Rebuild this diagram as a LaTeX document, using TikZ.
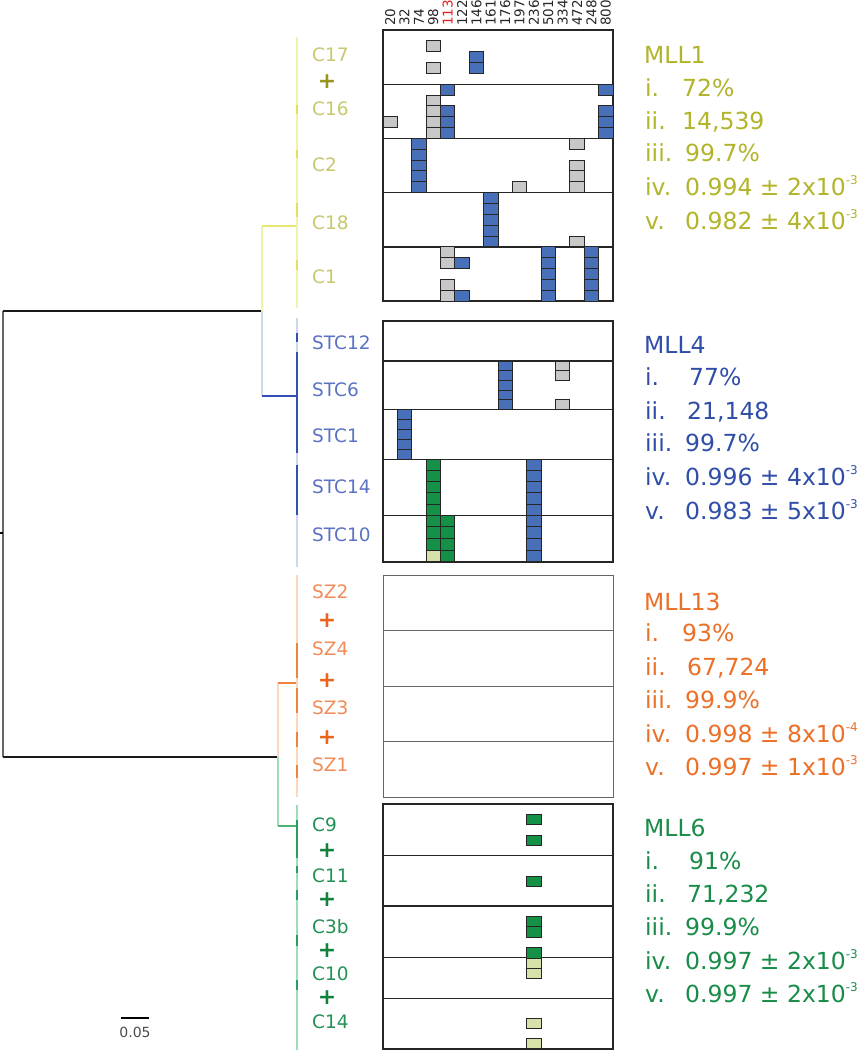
\documentclass[tikz,border=0pt]{standalone}
\usepackage{fontspec}
\setmainfont{DejaVu Sans}
\setsansfont{DejaVu Sans}
\definecolor{ylT}{RGB}{178,180,42}
\definecolor{ylL}{RGB}{200,200,110}
\definecolor{ylP}{RGB}{150,150,30}
\definecolor{ylLine}{RGB}{242,242,175}
\definecolor{ylDark}{RGB}{226,226,90}
\definecolor{blT}{RGB}{48,78,168}
\definecolor{blL}{RGB}{90,115,195}
\definecolor{blLine}{RGB}{205,215,240}
\definecolor{blDark}{RGB}{50,80,180}
\definecolor{orT}{RGB}{236,112,40}
\definecolor{orL}{RGB}{242,140,90}
\definecolor{orP}{RGB}{235,100,30}
\definecolor{orLine}{RGB}{250,215,190}
\definecolor{orDark}{RGB}{240,130,60}
\definecolor{grT}{RGB}{24,140,72}
\definecolor{grL}{RGB}{35,145,85}
\definecolor{grP}{RGB}{15,130,60}
\definecolor{grLine}{RGB}{160,220,180}
\definecolor{grDark}{RGB}{40,160,85}
\definecolor{cgray}{RGB}{200,200,200}
\definecolor{cblue}{RGB}{72,112,185}
\definecolor{cgreen}{RGB}{20,145,70}
\definecolor{cpale}{RGB}{214,226,170}
\definecolor{hdrred}{RGB}{230,30,30}
\definecolor{hdrblk}{RGB}{40,40,40}
\newcommand\mkslots[5]{%
  \foreach \s in {#4} {\draw[cellline, fill=#5] ({383+14.375*#1},{#2+#3*\s}) rectangle ++(14.375,#3);}}
\newcommand\statline[6]{%
  \node[stat, text=#4] (#1r) at (645,#2) {#5};
  \node[stat, text=#4] (#1v) at (#3,#2) {#6};}
\newcommand\supm[1]{\raisebox{0.45em}{\fontsize{12}{12}\selectfont #1}}
\begin{document}
\begin{tikzpicture}[x=1pt,y=-1pt]
\tikzset{
 hdr/.style={rotate=90, anchor=west, inner sep=0, font=\fontsize{13.5}{13.5}\selectfont},
 cellline/.style={draw=black!85, line width=0.9},
 outerbox/.style={draw=black!85, line width=1.8},
 sepline/.style={draw=black!85, line width=1.4},
 lightbox/.style={draw=black!60, line width=1},
 lab/.style={anchor=west, inner sep=0, font=\fontsize{18.5}{18.5}\selectfont},
 plus/.style={inner sep=0, font=\fontsize{22}{22}\selectfont\bfseries},
 stat/.style={anchor=base west, inner sep=0, font=\fontsize{23.5}{23.5}\selectfont},
 tl/.style={line width=1.3},
 td/.style={line width=2},
}
\useasboundingbox[fill=white] (0,0) rectangle (862,1050);

% ---------- header ----------
\foreach \n/\c [count=\i from 0] in {20/hdrblk,32/hdrblk,74/hdrblk,98/hdrblk,113/hdrred,122/hdrblk,146/hdrblk,161/hdrblk,176/hdrblk,197/hdrblk,236/hdrblk,501/hdrblk,334/hdrblk,472/hdrblk,248/hdrblk,800/hdrblk}
  \node[hdr, text=\c] (h\i) at ({383+14.375*(\i+0.5)},26) {\n};

% ---------- block 1 (MLL1) ----------
\foreach \yy in {84.2,138.4,192.6,246.8} \draw[sepline] (383,\yy) -- (613,\yy);
\draw[outerbox] (383,30) rectangle (613,301);
\mkslots{3}{30}{10.84}{1,3}{cgray}
\mkslots{6}{30}{10.84}{2,3}{cblue}
\mkslots{4}{84.2}{10.84}{0,2,3,4}{cblue}
\mkslots{3}{84.2}{10.84}{1,2,3,4}{cgray}
\mkslots{0}{84.2}{10.84}{3}{cgray}
\mkslots{15}{84.2}{10.84}{0,2,3,4}{cblue}
\mkslots{2}{138.4}{10.84}{0,1,2,3,4}{cblue}
\mkslots{13}{138.4}{10.84}{0,2,3,4}{cgray}
\mkslots{9}{138.4}{10.84}{4}{cgray}
\mkslots{7}{192.6}{10.84}{0,1,2,3,4}{cblue}
\mkslots{13}{192.6}{10.84}{4}{cgray}
\mkslots{4}{246.8}{10.84}{0,1,3,4}{cgray}
\mkslots{5}{246.8}{10.84}{1,4}{cblue}
\mkslots{11}{246.8}{10.84}{0,1,2,3,4}{cblue}
\mkslots{14}{246.8}{10.84}{0,1,2,3,4}{cblue}

% ---------- block 2 (MLL4) ----------
\foreach \yy in {361,409.3,459.3,515.3} \draw[sepline] (383,\yy) -- (613,\yy);
\draw[outerbox] (383,321) rectangle (613,561.7);
\mkslots{8}{361}{9.66}{0,1,2,3,4}{cblue}
\mkslots{12}{361}{9.66}{0,1,4}{cgray}
\mkslots{1}{409.3}{10}{0,1,2,3,4}{cblue}
\mkslots{3}{459.3}{11.2}{0,1,2,3,4}{cgreen}
\mkslots{10}{459.3}{11.2}{0,1,2,3,4}{cblue}
\mkslots{3}{515.3}{11.6}{0,1,2}{cgreen}
\mkslots{3}{515.3}{11.6}{3}{cpale}
\mkslots{4}{515.3}{11.6}{0,1,2,3}{cgreen}
\mkslots{10}{515.3}{11.6}{0,1,2,3}{cblue}

% ---------- block 3 (MLL13) ----------
\foreach \yy in {630.5,686,741} \draw[lightbox] (383,\yy) -- (613,\yy);
\draw[lightbox] (383,575.3) rectangle (613,797);

% ---------- block 4 (MLL6) ----------
\foreach \yy in {855.7,906,957.3,998.3} \draw[sepline] (383,\yy) -- (613,\yy);
\draw[outerbox] (383,804.3) rectangle (613,1049.3);
\mkslots{10}{814.3}{10.5}{0,2}{cgreen}
\mkslots{10}{876}{10.3}{0}{cgreen}
\mkslots{10}{916}{10.5}{0,1,3}{cgreen}
\mkslots{10}{958}{10}{0,1}{cpale}
\mkslots{10}{1018.3}{10.2}{0,2}{cpale}

% ---------- tree ----------
\coordinate (root) at (3,533);
\coordinate (rt) at (3,311);
\coordinate (rb) at (3,757);
\coordinate (n14) at (262,311);
\coordinate (n14a) at (262,226);
\coordinate (n14b) at (262,396);
\coordinate (n136) at (278,757);
\coordinate (n136a) at (278,683);
\coordinate (n136b) at (278,826);
\coordinate (c1a) at (297,226);
\coordinate (c4a) at (297,396);
\coordinate (c13a) at (297,683);
\coordinate (c6a) at (297,826);

\draw[line width=1.5, black!60] (rt) -- (rb);
\draw[line width=1.5, black] (0,533) -- (root);
\draw[line width=2, black!90] (rt) -- (n14);
\draw[line width=2, black!90] (rb) -- (n136);
\draw[tl, ylLine] (n14a) -- (n14);
\draw[tl, blLine] (n14) -- (n14b);
\draw[tl, ylDark!70!ylLine] (n14a) -- (c1a);
\draw[tl, blDark] (n14b) -- (c4a);
\draw[tl, orLine] (n136a) -- (n136);
\draw[tl, grLine] (n136) -- (n136b);
\draw[tl, orDark] (n136a) -- (c13a);
\draw[tl, grDark!70!grLine] (n136b) -- (c6a);

% clade combs
\draw[tl, ylLine] (297,37) -- (297,308);
\foreach \a/\b in {105/114,150/158,203/217,260/270} \draw[td, ylDark] (297,\a) -- (297,\b);
\draw[tl, blLine] (297,318) -- (297,567);
\foreach \a/\b in {333/342,352/453,465/515} \draw[td, blDark] (297,\a) -- (297,\b);
\draw[tl, orLine] (297,575) -- (297,797);
\foreach \a/\b in {643/678,688/713,732/747,765/778} \draw[td, orDark] (297,\a) -- (297,\b);
\draw[tl, grLine] (297,805) -- (297,1050);
\foreach \a/\b in {820/858,866/873,890/900,935/946,980/990} \draw[td, grDark] (297,\a) -- (297,\b);

% ---------- labels ----------
\node[lab, text=ylL] (lC17) at (312,55) {C17};
\node[plus, text=ylP] (p1) at (327,81.7) {+};
\node[lab, text=ylL] (lC16) at (312,109) {C16};
\node[lab, text=ylL] (lC2) at (312,165) {C2};
\node[lab, text=ylL] (lC18) at (312,222.7) {C18};
\node[lab, text=ylL] (lC1) at (312,276.7) {C1};
\node[lab, text=blL] (lS12) at (312,342.7) {STC12};
\node[lab, text=blL] (lS6) at (312,390) {STC6};
\node[lab, text=blL] (lS1) at (312,436) {STC1};
\node[lab, text=blL] (lS14) at (312,487) {STC14};
\node[lab, text=blL] (lS10) at (312,535) {STC10};
\node[lab, text=orL] (lSZ2) at (312,592) {SZ2};
\node[plus, text=orP] (p2) at (327,620.4) {+};
\node[lab, text=orL] (lSZ4) at (312,649) {SZ4};
\node[plus, text=orP] (p3) at (327,680.8) {+};
\node[lab, text=orL] (lSZ3) at (312,708) {SZ3};
\node[plus, text=orP] (p4) at (327,738) {+};
\node[lab, text=orL] (lSZ1) at (312,765) {SZ1};
\node[lab, text=grL] (lC9) at (312,824.5) {C9};
\node[plus, text=grP] (p5) at (327,851) {+};
\node[lab, text=grL] (lC11) at (312,875.5) {C11};
\node[plus, text=grP] (p6) at (327,900) {+};
\node[lab, text=grL] (lC3b) at (312,926.5) {C3b};
\node[plus, text=grP] (p7) at (327,951) {+};
\node[lab, text=grL] (lC10) at (312,973.5) {C10};
\node[plus, text=grP] (p8) at (327,998) {+};
\node[lab, text=grL] (lC14) at (312,1022) {C14};

% ---------- stats ----------
\node[stat, text=ylT] (t1) at (644,63.3) {MLL1};
\statline{a1}{96}{682}{ylT}{i.}{72\%}
\statline{a2}{129}{682}{ylT}{ii.}{14,539}
\statline{a3}{161.7}{685}{ylT}{iii.}{99.7\%}
\statline{a4}{195}{685}{ylT}{iv.}{0.994 ± 2x10\supm{-3}}
\statline{a5}{229}{685}{ylT}{v.}{0.982 ± 4x10\supm{-3}}

\node[stat, text=blT] (t2) at (644,353.3) {MLL4};
\statline{b1}{385}{689}{blT}{i.}{77\%}
\statline{b2}{419}{687}{blT}{ii.}{21,148}
\statline{b3}{451.7}{685}{blT}{iii.}{99.7\%}
\statline{b4}{485}{685}{blT}{iv.}{0.996 ± 4x10\supm{-3}}
\statline{b5}{519}{685}{blT}{v.}{0.983 ± 5x10\supm{-3}}

\node[stat, text=orT] (t3) at (644,610.7) {MLL13};
\statline{c1}{641.7}{682}{orT}{i.}{93\%}
\statline{c2}{675}{687}{orT}{ii.}{67,724}
\statline{c3}{708.3}{685}{orT}{iii.}{99.9\%}
\statline{c4}{742.3}{685}{orT}{iv.}{0.998 ± 8x10\supm{-4}}
\statline{c5}{775}{685}{orT}{v.}{0.997 ± 1x10\supm{-3}}

\node[stat, text=grT] (t4) at (644,836.7) {MLL6};
\statline{d1}{869}{689}{grT}{i.}{91\%}
\statline{d2}{902.3}{687}{grT}{ii.}{71,232}
\statline{d3}{935}{685}{grT}{iii.}{99.9\%}
\statline{d4}{969}{685}{grT}{iv.}{0.997 ± 2x10\supm{-3}}
\statline{d5}{1002.3}{685}{grT}{v.}{0.997 ± 2x10\supm{-3}}

% ---------- scale bar ----------
\coordinate (sb1) at (121,1018);
\coordinate (sb2) at (149,1018);
\draw[line width=2.5, black] (sb1) -- (sb2);
\node[anchor=base, inner sep=0, text=black!70, font=\fontsize{14}{14}\selectfont] (sbl) at (135,1037) {0.05};
\end{tikzpicture}
\end{document}
